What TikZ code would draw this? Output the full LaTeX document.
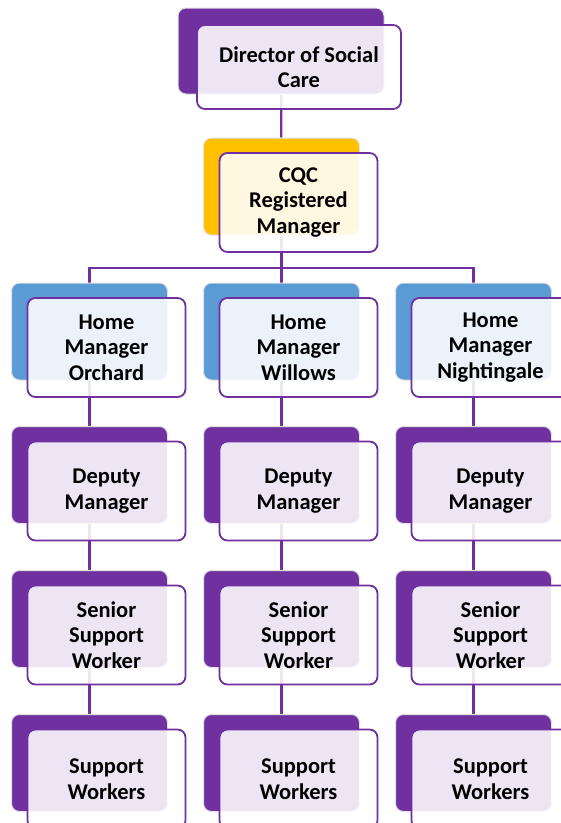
\documentclass[tikz,border=0pt]{standalone}
\usepackage{fontspec}
\setmainfont{Carlito}
\usetikzlibrary{positioning}
\pgfdeclarelayer{background}
\pgfsetlayers{background,main}
\definecolor{plum}{HTML}{7030A0}
\definecolor{gold}{HTML}{FFC000}
\definecolor{sky}{HTML}{5B9BD5}
\tikzset{
  back/.style={draw=black!12, line width=1pt, rounded corners=8pt, minimum width=156pt, minimum height=97pt},
  front/.style={draw=plum, line width=1.8pt, fill=white, fill opacity=0.88, text opacity=1, rounded corners=8pt,
    minimum width=158pt, minimum height=99pt, align=center, font=\fontsize{22.5}{25.5}\selectfont\bfseries},
  link/.style={draw=plum, line width=2.2pt}
}
% name, x, y, colour, text
\newcommand\staffbox[5]{%
  \node[back, fill=#4] (#1b) at (#2,#3) {};
  \node[front] (#1) at (#2+17,#3+16) {#5};
}

\begin{document}
\begin{tikzpicture}[x=1pt, y=-1pt]
  \useasboundingbox (0,0) rectangle (561,823);
  \clip (0,0) rectangle (561,823);

  %%%%% TOP %%%%%
  \node[back, fill=plum, minimum width=206pt, minimum height=86pt] (dirb) at (281,51) {};
  \node[front, minimum width=204pt, minimum height=84pt] (dir) at (299,67) {Director of Social\\Care};

  \staffbox{cqc}{281.5}{186.5}{gold}{CQC\\Registered\\Manager}

  %%%%% HOMES %%%%%
  \foreach \col/\x/\place in {A/89.5/Orchard, B/281.5/Willows, C/473.5/Nightingale}{
    \staffbox{hm\col}{\x}{331.5}{sky}{Home\\Manager\\\place}
    \staffbox{dep\col}{\x}{475}{plum}{Deputy\\Manager}
    \staffbox{sen\col}{\x}{619}{plum}{Senior\\Support\\Worker}
    \staffbox{sup\col}{\x}{763}{plum}{Support\\Workers}
  }

  %%%%% LINKS %%%%%
  \begin{pgfonlayer}{background}
    \coordinate (bar) at (281.5,268);
    \draw[link] (dirb) -- (cqcb);
    \draw[link] (cqcb) -- (bar);
    \draw[link] (hmAb.north) |- (bar) -| (hmCb.north);
    \draw[link] (bar) -- (hmBb.north);
    \foreach \col in {A,B,C}
      \draw[link] (hm\col b) -- (dep\col b) -- (sen\col b) -- (sup\col b);
  \end{pgfonlayer}
\end{tikzpicture}
\end{document}
